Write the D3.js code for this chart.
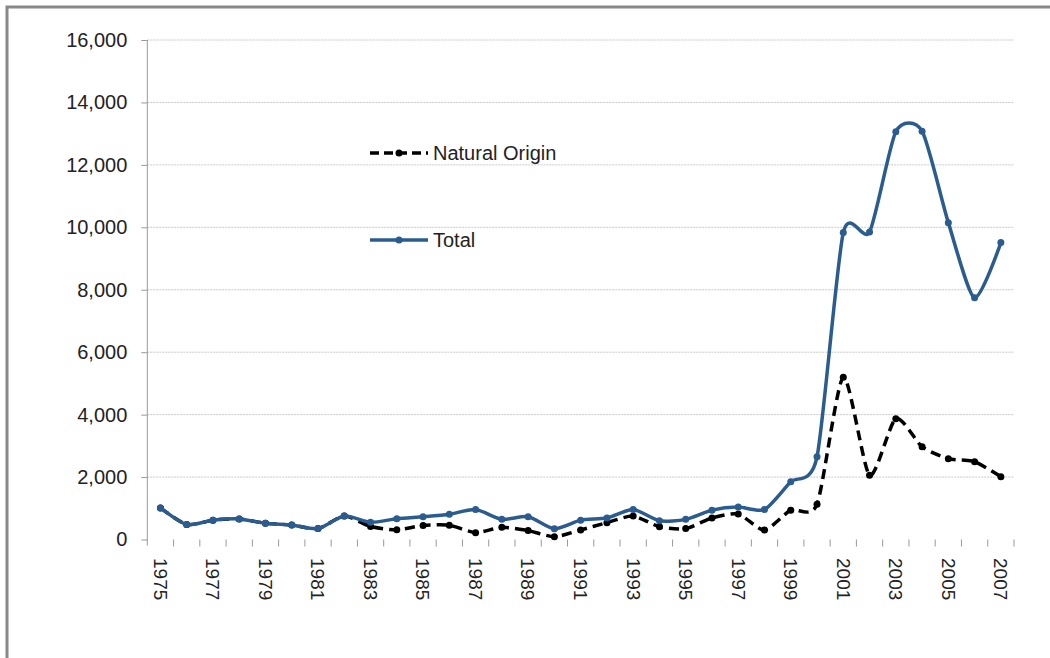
<!DOCTYPE html>
<html>
<head>
<meta charset="utf-8">
<script src="https://cdn.jsdelivr.net/npm/d3@7"></script>
<style>
  html, body { margin: 0; padding: 0; background: #fff; }
  svg { display: block; font-family: "Liberation Sans", Arial, sans-serif; }
</style>
</head>
<body>
<svg id="chart" width="1050" height="658"></svg>
<script>
const years = d3.range(1975, 2008).map(String);
const totalValues = [1010, 480, 620, 660, 520, 465, 350, 750, 550, 665, 730, 810, 960, 645, 730, 345,
  620, 690, 960, 600, 645, 940, 1040, 960, 1850, 2650, 9830, 9850, 13060, 13080, 10150, 7740, 9510];
const naturalValues = [1010, 480, 620, 660, 520, 465, 350, 750, 420, 310, 450, 455, 220, 390, 285, 90,
  305, 540, 750, 410, 350, 690, 815, 305, 940, 1130, 5200, 2060, 3870, 2970, 2590, 2490, 2010];
const yTicks = [0, 2000, 4000, 6000, 8000, 10000, 12000, 14000, 16000];
const labelYears = years.filter((d, i) => i % 2 === 0);
const seriesNames = ["Natural Origin", "Total"];

const svg = d3.select("#chart");
const pLeft = 147.3, pRight = 1014, pTop = 40, pBottom = 539.5;

// outer frame (only left and top visible)
svg.append("rect").attr("x", 7).attr("y", 7).attr("width", 1100).attr("height", 700)
  .attr("fill", "none").attr("stroke", "#888").attr("stroke-width", 3);

const x = d3.scaleBand().domain(years).range([pLeft, pRight]).padding(0);
const y = d3.scaleLinear().domain([0, 16000]).range([pBottom, pTop]);

// gridlines
svg.append("g").selectAll("line").data(yTicks.filter(d => d > 0)).join("line")
  .attr("x1", pLeft).attr("x2", pRight)
  .attr("y1", d => y(d)).attr("y2", d => y(d))
  .attr("stroke", "#c8c8c8").attr("stroke-width", 1).attr("stroke-dasharray", "2,1");

// y axis
const yAxis = d3.axisLeft(y).tickValues(yTicks).tickSize(6).tickPadding(14)
  .tickFormat(d3.format(","));
const gy = svg.append("g").attr("transform", `translate(${pLeft},0)`).call(yAxis);
gy.select(".domain").attr("stroke", "#999").attr("d", `M0,${pTop}V${pBottom + 6}`);
gy.selectAll(".tick line").attr("stroke", "#999");
gy.selectAll(".tick text").attr("font-size", 20).attr("fill", "#222")
  .attr("font-family", "'Liberation Sans', Arial, sans-serif");

// x ticks at category boundaries
const bounds = years.map(d => x(d)).concat([pRight]);
svg.append("g").selectAll("line").data(bounds.slice(1)).join("line")
  .attr("x1", d => d).attr("x2", d => d).attr("y1", pBottom).attr("y2", pBottom + 7)
  .attr("stroke", "#999");

// x labels
svg.append("g").selectAll("text").data(labelYears).join("text")
  .attr("transform", d => `translate(${x(d) + x.bandwidth() / 2},558) rotate(90)`)
  .attr("dy", "0.35em").attr("text-anchor", "start")
  .attr("font-size", 19).attr("fill", "#222").text(d => d);

const cx = d => x(d) + x.bandwidth() / 2;
const line = d3.line().x(d => cx(d[0])).y(d => y(d[1])).curve(d3.curveCardinal.tension(0.3));

const natData = years.map((d, i) => [d, naturalValues[i]]);
const totData = years.map((d, i) => [d, totalValues[i]]);

const natColor = "#000", totColor = "#2b5c8f";

svg.append("path").datum(natData).attr("d", line).attr("fill", "none")
  .attr("stroke", natColor).attr("stroke-width", 3.5).attr("stroke-dasharray", "10,6");
svg.append("g").selectAll("circle").data(natData).join("circle")
  .attr("cx", d => cx(d[0])).attr("cy", d => y(d[1])).attr("r", 3.5).attr("fill", natColor);

svg.append("path").datum(totData).attr("d", line).attr("fill", "none")
  .attr("stroke", totColor).attr("stroke-width", 3.5);
svg.append("g").selectAll("circle").data(totData).join("circle")
  .attr("cx", d => cx(d[0])).attr("cy", d => y(d[1])).attr("r", 3.5).attr("fill", totColor);

// legend
const legend = [
  { name: seriesNames[0], y: 153, color: natColor, dash: "9,5" },
  { name: seriesNames[1], y: 240, color: totColor, dash: null }
];
const lg = svg.append("g");
legend.forEach(l => {
  lg.append("line").attr("x1", 370).attr("x2", 428).attr("y1", l.y).attr("y2", l.y)
    .attr("stroke", l.color).attr("stroke-width", 3.5).attr("stroke-dasharray", l.dash);
  lg.append("circle").attr("cx", 399).attr("cy", l.y).attr("r", 3.5).attr("fill", l.color);
  lg.append("text").attr("x", 433).attr("y", l.y).attr("dy", "0.35em")
    .attr("font-size", 20).attr("fill", "#222").text(l.name);
});
</script>
</body>
</html>
